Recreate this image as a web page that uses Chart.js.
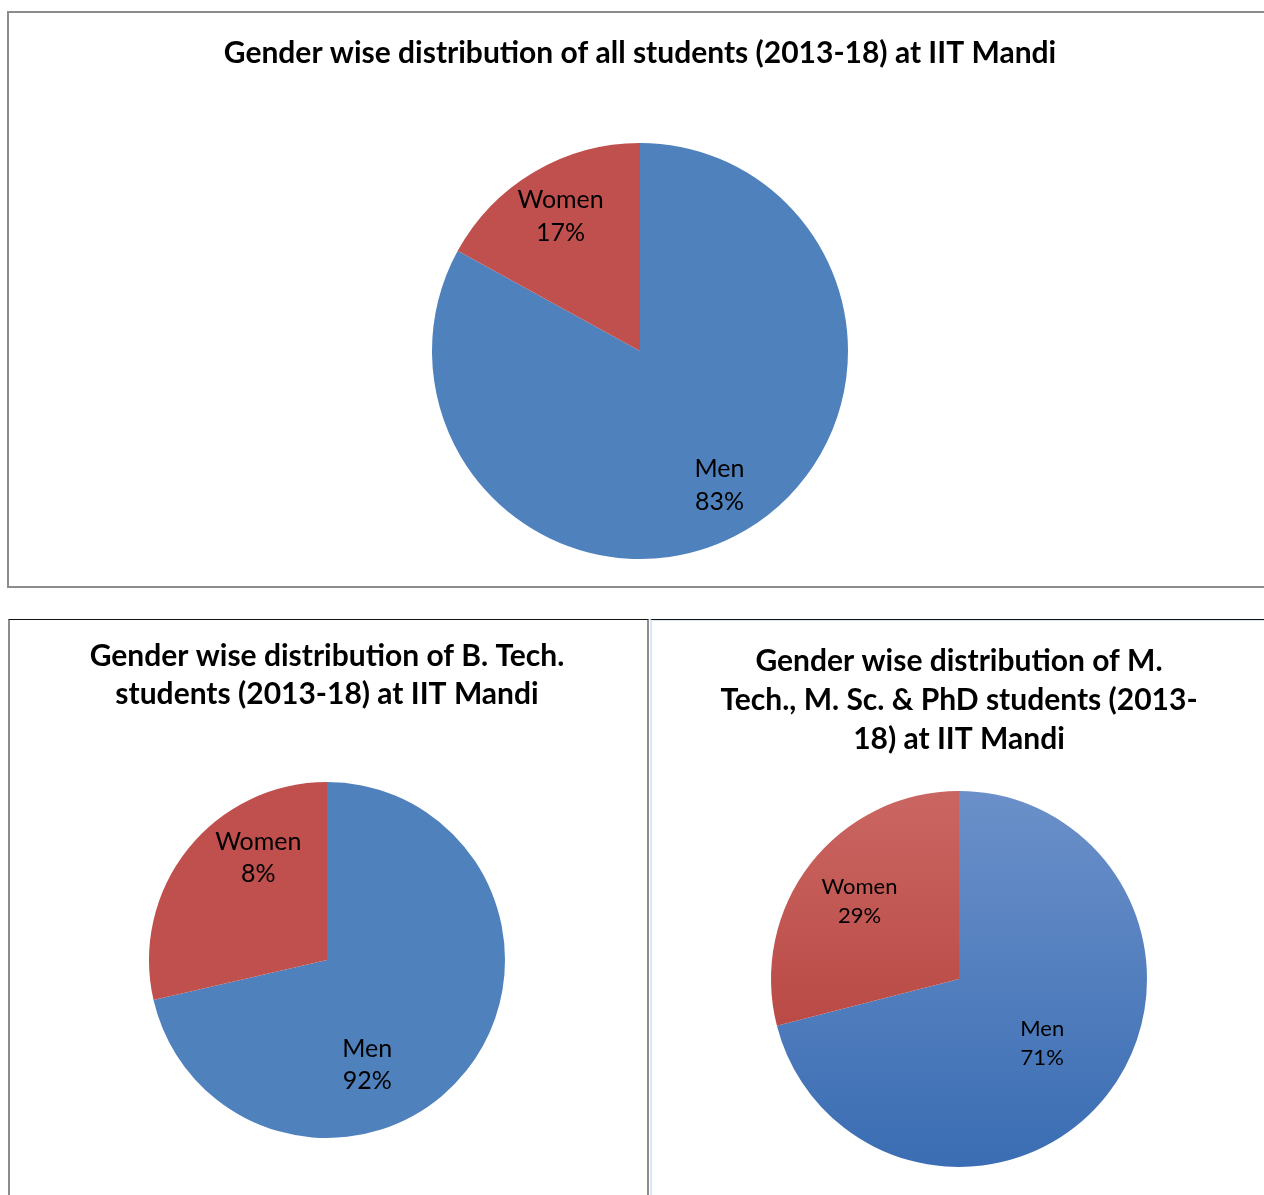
<!DOCTYPE html>
<html>
<head>
<meta charset="utf-8">
<script src="https://cdn.jsdelivr.net/npm/chart.js@4/dist/chart.umd.min.js"></script>
<style>
  html, body { margin: 0; padding: 0; background: #fff; overflow: hidden; }
  body { width: 1264px; height: 1195px; position: relative; }
  .box { position: absolute; box-sizing: border-box; }
  #boxTop { left: 7px; top: 11px; width: 1280px; height: 577px; border: 2px solid #8c8c8c; }
  #boxLeft { left: 8px; top: 619px; width: 641px; height: 600px; border-left: 2px solid #8c8c8c; border-right: 2px solid #8c8c8c; border-top: 1px solid #111; }
  #boxRight { left: 650px; top: 619px; width: 640px; height: 600px; border-left: 2px solid #dce6f4; border-top: 1px solid #111; box-shadow: inset 0 1px 0 #dce6f4; }
  canvas { position: absolute; }
  #chartTop { left: 40px; top: 13px; }
  #chartLeft { left: 12px; top: 621px; }
  #chartRight { left: 652px; top: 622px; }
</style>
</head>
<body>
<div class="box" id="boxTop"></div>
<div class="box" id="boxLeft"></div>
<div class="box" id="boxRight"></div>
<canvas id="chartTop" width="1200" height="574"></canvas>
<canvas id="chartLeft" width="630" height="574"></canvas>
<canvas id="chartRight" width="614" height="573"></canvas>
<script>
// categories
const genders = ['Men', 'Women'];

// all students (slice sizes as drawn)
const allValues = [83, 17];
const allLabels = ['83%', '17%'];

// B. Tech. - the slices are drawn ~71/29 in the original, labels say 92/8
const btechValues = [71.4, 28.6];
const btechLabels = ['92%', '8%'];

// M. Tech., M. Sc. & PhD
const pgValues = [71, 29];
const pgLabels = ['71%', '29%'];

const titleAll = 'Gender wise distribution of all students (2013-18) at IIT Mandi';
const titleBtech = ['Gender wise distribution of B. Tech.', 'students (2013-18) at IIT Mandi'];
const titlePg = ['Gender wise distribution of M.', 'Tech., M. Sc. & PhD students (2013-', '18) at IIT Mandi'];

const FONT = 'Lato, "Open Sans", sans-serif';
const BLUE = '#4f81bd';
const RED = '#c0504d';

// draws "Men / 83%" style labels inside slices
const sliceLabels = {
  id: 'sliceLabels',
  afterDatasetsDraw(chart, args, opts) {
    const ctx = chart.ctx;
    const meta = chart.getDatasetMeta(0);
    ctx.save();
    ctx.fillStyle = '#000';
    ctx.font = opts.size + 'px ' + FONT;
    ctx.textAlign = 'center';
    ctx.textBaseline = 'middle';
    meta.data.forEach((arc, i) => {
      const p = opts.pos[i];
      const ang = p.angle !== undefined ? p.angle * Math.PI / 180 : (arc.startAngle + arc.endAngle) / 2;
      const r = arc.outerRadius * p.r;
      const x = arc.x + Math.cos(ang) * r;
      const y = arc.y + Math.sin(ang) * r;
      ctx.fillText(genders[i], x, y - opts.gap / 2);
      ctx.fillText(opts.texts[i], x, y + opts.gap / 2);
    });
    ctx.restore();
  }
};

function makePie(id, values, texts, title, t, radius, labelOpts, colors) {
  return new Chart(document.getElementById(id), {
    type: 'pie',
    data: {
      labels: genders,
      datasets: [{
        data: values,
        backgroundColor: colors,
        borderWidth: 0,
        radius: radius
      }]
    },
    options: {
      responsive: false,
      animation: false,
      events: [],
      layout: { padding: 0 },
      plugins: {
        legend: { display: false },
        tooltip: { enabled: false },
        title: {
          display: true,
          text: title,
          color: '#000',
          font: { family: FONT, size: t.size, weight: 'bold', lineHeight: t.lh },
          padding: { top: t.top, bottom: t.bottom }
        },
        sliceLabels: Object.assign({ texts: texts }, labelOpts)
      }
    },
    plugins: [sliceLabels]
  });
}

// vertical gradient per slice (top lighter, bottom darker)
function gradFill(stops, r) {
  return function (ctx) {
    const s = stops[ctx.dataIndex];
    const area = ctx.chart.chartArea;
    if (!area) return s[0];
    const cy = (area.top + area.bottom) / 2;
    const g = ctx.chart.ctx.createLinearGradient(0, cy - r, 0, cy + r);
    g.addColorStop(0, s[0]);
    g.addColorStop(1, s[1]);
    return g;
  };
}

makePie('chartTop', allValues, allLabels, titleAll,
  { size: 30, lh: 1.2, top: 22, bottom: 44 }, 208,
  { size: 25, gap: 33, pos: [{ r: 0.75 }, { r: 0.75 }] },
  [BLUE, RED]);

makePie('chartLeft', btechValues, btechLabels, titleBtech,
  { size: 30, lh: 37.5 / 30, top: 17, bottom: 12 }, 178,
  { size: 25, gap: 32, pos: [{ r: 0.63, angle: 69 }, { r: 0.69, angle: -124 }] },
  [BLUE, RED]);

makePie('chartRight', pgValues, pgLabels, titlePg,
  { size: 30, lh: 39 / 30, top: 19.5, bottom: 4.5 }, 188,
  { size: 22, gap: 29, pos: [{ r: 0.56 }, { r: 0.67 }] },
  gradFill([['#6b90c9', '#3a6db3'], ['#ca6662', '#b03934']], 188));
</script>
</body>
</html>
